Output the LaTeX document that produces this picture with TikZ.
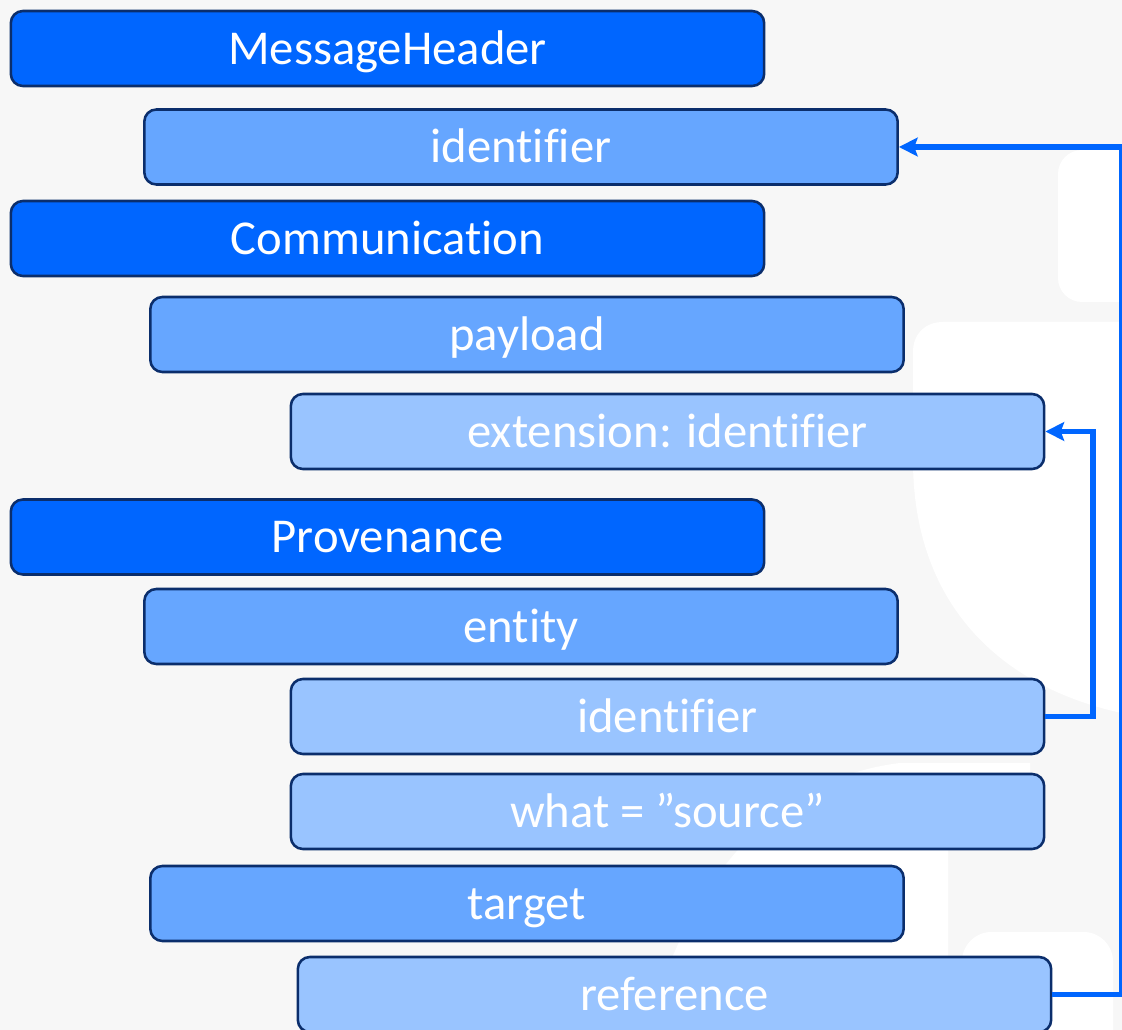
\documentclass[tikz,border=0pt]{standalone}
\usepackage{fontspec}
\setmainfont{Carlito}[Ligatures=CommonOff]
\usepackage{tikz}
\usetikzlibrary{shapes,arrows,arrows.meta}
\definecolor{hdr}{HTML}{0066FF}
\definecolor{fld}{HTML}{66A6FF}
\definecolor{sub}{HTML}{99C4FF}
\definecolor{rim}{HTML}{0B2E6C}
\definecolor{bg}{HTML}{F7F7F7}
\tikzstyle{bar} = [draw=rim, line width=1.9pt, rounded corners=9pt,
    minimum width=565pt, minimum height=56.25pt, inner sep=0pt,
    text=white, font=\fontsize{36.5}{40}\selectfont, text height=23.4pt, text depth=0pt]
\tikzstyle{hdrbar} = [bar, fill=hdr]
\tikzstyle{fldbar} = [bar, fill=fld]
\tikzstyle{subbar} = [bar, fill=sub]
\tikzstyle{link} = [draw=hdr, line width=4.2pt]

\begin{document}
\begin{tikzpicture}[x=0.75pt, y=-0.75pt]
  \useasboundingbox (0,0) rectangle (1122,1030);
  \fill [bg] (0,0) rectangle (1122,1030);
  \fill [white, rounded corners=18pt] (1058,150) rectangle (1150,302);
  \fill [white] (1150,322) -- (943,322) .. controls (925,322) and (913,334) .. (913,352)
    -- (913,460) .. controls (913,620) and (1020,700) .. (1150,718) -- cycle;
  \fill [white] (645,1040) .. controls (680,900) and (760,780) .. (900,763)
    -- (1030,763) -- (1030,850) -- (948,850) -- (948,1040) -- cycle;
  \fill [white, rounded corners=22pt] (962,932) rectangle (1113,1060);

  \node [hdrbar] (h1) at (387.5,48.5) {MessageHeader};
  \node [fldbar] (f11) at (521,147) {identifier};
  \node [hdrbar] (h2) at (387.5,238.5) {Communication};
  \node [fldbar] (f21) at (527,334.5) {payload};
  \node [subbar] (s21) at (667.5,431.5) {extension: identifier};
  \node [hdrbar] (h3) at (387.5,537) {Provenance};
  \node [fldbar] (f31) at (521,626.5) {entity};
  \node [subbar] (s31) at (667.5,716.5) {identifier};
  \node [subbar] (s32) at (667.5,811.5) {what = ”source”};
  \node [fldbar] (f32) at (527,903.5) {target};
  \node [subbar] (s33) at (674.5,994.5) {reference};

  \coordinate (t1) at (1122,994.5);
  \coordinate (t2) at (1093,716.5);
  \draw [link, -{Stealth[length=14pt,width=14pt,inset=2.5pt]}] (s33.east) -- (t1) |- (f11.east);
  \draw [link, -{Stealth[length=14pt,width=14pt,inset=2.5pt]}] (s31.east) -- (t2) |- (s21.east);
\end{tikzpicture}
\end{document}
